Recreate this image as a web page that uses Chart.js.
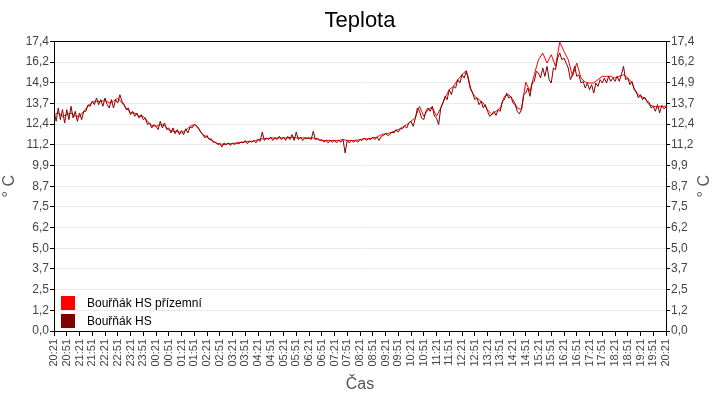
<!DOCTYPE html>
<html>
<head>
<meta charset="utf-8">
<script src="https://cdn.jsdelivr.net/npm/chart.js@4"></script>
<style>
  body { margin: 0; background: #fff; }
  #box { width: 720px; height: 400px; }
</style>
</head>
<body>
<div id="box"><canvas id="graf"></canvas></div>
<script>
// popisky osy X (po 30 minutách od 20:21)
const casy = ['20:21','20:51','21:21','21:51','22:21','22:51','23:21','23:51','00:21','00:51',
  '01:21','01:51','02:21','02:51','03:21','03:51','04:21','04:51','05:21','05:51','06:21','06:51',
  '07:21','07:51','08:21','08:51','09:21','09:51','10:21','10:51','11:21','11:51','12:21','12:51',
  '13:21','13:51','14:21','14:51','15:21','15:51','16:21','16:51','17:21','17:51','18:21','18:51',
  '19:21','19:51','20:21'];

// popisky osy Y
const popiskyY = ['0,0','1,2','2,5','3,7','5,0','6,2','7,5','8,7','9,9','11,2','12,4','13,7','14,9','16,2','17,4'];
const maxY = 17.4;

// Bouřňák HS – vzorek každých 5 minut
const krokHS = 5;
const teplotaHS = [
  13.2, 12.6, 13.4, 12.7, 13.3, 12.5, 13.3, 12.7, 13.5, 12.8, 13.2, 12.6,
  13.1, 12.7, 13.2, 13.2, 13.6, 13.5, 13.8, 13.6, 14.0, 13.6, 13.9, 13.5,
  14.0, 13.6, 13.4, 13.9, 13.4, 13.9, 13.7, 14.2, 13.8, 13.6, 13.3, 13.4,
  13.0, 13.2, 12.9, 13.1, 12.8, 13.0, 12.7, 12.8, 12.4, 12.5, 12.2, 12.4,
  12.3, 12.1, 12.6, 12.2, 12.5, 12.1, 12.2, 11.9, 12.2, 11.85, 12.1, 11.8,
  12.05, 11.8, 12.15, 11.9, 12.25, 12.2, 12.4, 12.35, 12.2, 11.95, 11.8, 11.6,
  11.75, 11.5, 11.55, 11.35, 11.35, 11.2, 11.25, 11.05, 11.3, 11.2, 11.3, 11.15,
  11.3, 11.2, 11.3, 11.25, 11.35, 11.3, 11.45, 11.25, 11.4, 11.35, 11.45, 11.3,
  11.5, 11.4, 11.95, 11.45, 11.6, 11.5, 11.65, 11.45, 11.6, 11.5, 11.7, 11.5,
  11.65, 11.45, 11.7, 11.5, 11.8, 11.45, 11.95, 11.5, 11.65, 11.45, 11.6, 11.55,
  11.6, 11.5, 12.0, 11.5, 11.6, 11.45, 11.5, 11.35, 11.45, 11.3, 11.45, 11.35,
  11.45, 11.3, 11.45, 11.35, 11.5, 10.7, 11.45, 11.3, 11.45, 11.35, 11.45, 11.35,
  11.5, 11.45, 11.6, 11.45, 11.55, 11.5, 11.65, 11.5, 11.65, 11.45, 11.7, 11.75,
  11.85, 11.75, 11.8, 11.95, 11.9, 12.1, 11.95, 12.15, 12.15, 12.3, 12.2, 12.5,
  12.6, 12.3, 12.75, 13.4, 13.2, 12.8, 12.7, 13.2, 13.4, 13.2, 13.5, 12.9,
  12.8, 12.4, 13.4, 13.7, 14.1, 13.9, 14.5, 14.2, 14.7, 14.6, 15.1, 14.9,
  15.4, 15.2, 15.6, 15.2, 14.6, 14.3, 13.9, 14.0, 13.6, 13.8, 13.4, 13.6,
  13.2, 12.9, 13.0, 13.2, 12.95, 13.3, 13.2, 13.8, 13.9, 14.3, 14.0, 14.1,
  13.7, 13.6, 13.2, 13.05, 13.3, 14.2, 14.3, 14.6, 14.1, 14.9, 15.0, 15.6,
  15.5, 15.2, 15.8, 15.3, 15.9, 15.1, 14.9, 15.8, 15.7, 16.4, 16.7, 16.3,
  16.4, 16.1, 15.8, 15.1, 15.4, 15.9, 15.3, 15.4, 14.9, 15.0, 14.6, 14.9,
  14.5, 14.8, 14.3, 14.9, 14.7, 15.1, 14.9, 15.2, 14.9, 15.3, 15.0, 15.2,
  15.0, 15.3, 15.0, 15.4, 15.9, 15.1, 15.2, 14.8, 15.0, 14.5, 14.4, 14.0,
  14.2, 13.9, 14.05, 13.8, 13.75, 13.4, 13.5, 13.2, 13.6, 13.1, 13.55, 13.35,
  13.45
];

// Bouřňák HS přízemní – vzorek každých 10 minut
const krokPrizemni = 10;
const teplotaPrizemni = [
  13.0, 13.1, 12.9, 13.0, 13.1, 12.9,
  12.9, 13.2, 13.5, 13.75, 13.8, 13.8,
  13.85, 13.7, 13.8, 14.0, 13.7, 13.4,
  13.1, 13.1, 12.9, 12.9, 12.6, 12.35,
  12.3, 12.4, 12.35, 12.1, 12.0, 12.0,
  11.9, 12.05, 12.3, 12.4, 12.15, 11.8,
  11.65, 11.45, 11.3, 11.25, 11.2, 11.25,
  11.25, 11.3, 11.35, 11.35, 11.4, 11.4,
  11.5, 11.55, 11.55, 11.6, 11.6, 11.6,
  11.6, 11.6, 11.65, 11.6, 11.6, 11.6,
  11.6, 11.6, 11.5, 11.45, 11.45, 11.45,
  11.45, 11.45, 11.5, 11.45, 11.45, 11.45,
  11.5, 11.55, 11.55, 11.6, 11.65, 11.8,
  11.85, 11.9, 12.0, 12.1, 12.25, 12.4,
  12.6, 12.8, 13.5, 12.9, 13.3, 13.45,
  12.9, 13.4, 14.0, 14.5, 14.7, 15.1,
  15.4, 15.65, 14.5, 14.1, 13.9, 13.7,
  13.3, 13.0, 13.2, 13.4, 14.1, 14.2,
  13.9, 13.4, 13.3, 14.95, 14.4, 15.4,
  16.3, 16.7, 16.1, 16.6, 15.9, 17.35,
  16.8, 16.3, 15.3, 16.1, 15.2, 14.95,
  14.9, 14.9, 15.1, 15.3, 15.3, 15.3,
  15.2, 15.3, 15.4, 15.2, 14.9, 14.3,
  14.1, 14.0, 13.6, 13.5, 13.45, 13.5,
  13.5
];

const bodyHS = teplotaHS.map((v, i) => ({ x: i * krokHS, y: v }));
const bodyPrizemni = teplotaPrizemni.map((v, i) => ({ x: i * krokPrizemni, y: v }));

const pismo = '"Liberation Sans", Arial, sans-serif';
const sedaPopisky = '#444';

// rámeček, legenda v grafu a pravý popisek osy
const doplnky = {
  id: 'doplnky',
  afterDraw(chart) {
    const c = chart.ctx;
    const a = chart.chartArea;
    c.save();
    c.strokeStyle = '#000';
    c.lineWidth = 1;
    c.strokeRect(Math.round(a.left) + 0.5, Math.round(a.top) + 0.5,
      Math.round(a.right - a.left), Math.round(a.bottom - a.top));

    const polozky = [
      { text: 'Bouřňák HS přízemní', barva: '#ff0000' },
      { text: 'Bouřňák HS', barva: '#800000' }
    ];
    c.font = '12px ' + pismo;
    c.textBaseline = 'middle';
    polozky.forEach((p, i) => {
      const y = a.bottom - 35 + i * 18;
      c.fillStyle = p.barva;
      c.fillRect(a.left + 7, y, 14, 14);
      c.fillStyle = '#000';
      c.fillText(p.text, a.left + 33, y + 8);
    });

    // popisek pravé osy (čte se zdola nahoru)
    c.fillStyle = '#555';
    c.font = '16px ' + pismo;
    c.textAlign = 'center';
    c.translate(705, (a.top + a.bottom) / 2);
    c.rotate(-Math.PI / 2);
    c.fillText('° C', 0, 0);
    c.restore();
  }
};

const tickyY = scale => {
  scale.ticks = popiskyY.map((_, i) => ({ value: i * maxY / (popiskyY.length - 1) }));
};

new Chart(document.getElementById('graf'), {
  type: 'line',
  data: {
    datasets: [
      {
        label: 'Bouřňák HS',
        data: bodyHS,
        borderColor: '#800000',
        borderWidth: 1,
        pointRadius: 0,
        tension: 0
      },
      {
        label: 'Bouřňák HS přízemní',
        data: bodyPrizemni,
        borderColor: '#ff0000',
        borderWidth: 1,
        pointRadius: 0,
        tension: 0
      }
    ]
  },
  options: {
    responsive: true,
    maintainAspectRatio: false,
    animation: false,
    layout: { padding: { left: 0, right: 0, top: 0, bottom: 0 } },
    plugins: {
      legend: { display: false },
      tooltip: { enabled: false },
      title: {
        display: true,
        text: 'Teplota',
        color: '#000',
        font: { family: pismo, size: 22, weight: 'normal' },
        padding: { top: 8, bottom: 7 }
      }
    },
    scales: {
      x: {
        type: 'linear',
        min: 0,
        max: 1440,
        afterBuildTicks: s => { s.ticks = casy.map((_, i) => ({ value: i * 30 })); },
        afterFit: s => { s.height = 69; },
        ticks: {
          autoSkip: false,
          maxRotation: 90,
          minRotation: 90,
          padding: 3,
          color: sedaPopisky,
          font: { family: pismo, size: 11 },
          callback: (v, i) => casy[i]
        },
        grid: { drawOnChartArea: false, tickLength: 5, tickColor: '#000' },
        border: { color: '#000' },
        title: {
          display: true,
          text: 'Čas',
          color: '#555',
          font: { family: pismo, size: 16 },
          padding: { top: 0, bottom: 6 }
        }
      },
      y: {
        position: 'left',
        min: 0,
        max: maxY,
        afterBuildTicks: tickyY,
        afterFit: s => { s.width = 54; },
        ticks: {
          padding: 1,
          color: sedaPopisky,
          font: { family: pismo, size: 12 },
          callback: (v, i) => popiskyY[i]
        },
        grid: { color: '#ebebeb', tickLength: 4, tickColor: '#000' },
        border: { color: '#000' },
        title: {
          display: true,
          text: '° C',
          color: '#555',
          font: { family: pismo, size: 16 },
          padding: { top: 0, bottom: 4 }
        }
      },
      y2: {
        position: 'right',
        min: 0,
        max: maxY,
        afterBuildTicks: tickyY,
        afterFit: s => { s.width = 54; },
        ticks: {
          padding: 1,
          color: sedaPopisky,
          font: { family: pismo, size: 12 },
          callback: (v, i) => popiskyY[i]
        },
        grid: { drawOnChartArea: false, tickLength: 4, tickColor: '#000' },
        border: { color: '#000' }
      }
    }
  },
  plugins: [doplnky]
});
</script>
</body>
</html>
